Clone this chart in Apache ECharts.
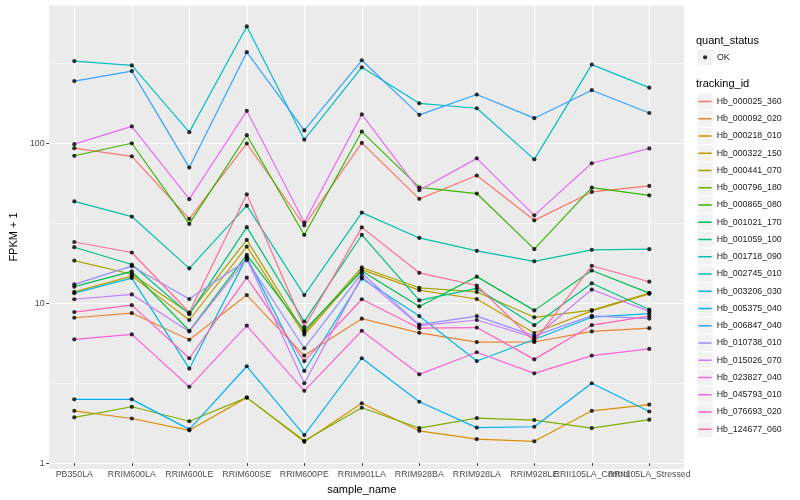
<!DOCTYPE html>
<html><head><meta charset="utf-8">
<script src="https://cdn.jsdelivr.net/npm/echarts@6/dist/echarts.min.js"></script>
<style>html,body{margin:0;padding:0;background:#fff}#c{width:800px;height:500px}</style>
</head><body><div id="c"></div>
<script>
// ---- data ----
const categories = ["PB350LA","RRIM600LA","RRIM600LE","RRIM600SE","RRIM600PE","RRIM901LA","RRIM928BA","RRIM928LA","RRIM928LE","RRII105LA_Control","RRII105LA_Stressed"];
const yTickValues = [1, 10, 100];
const trackingIds = ["Hb_000025_360","Hb_000092_020","Hb_000218_010","Hb_000322_150","Hb_000441_070","Hb_000796_180","Hb_000865_080","Hb_001021_170","Hb_001059_100","Hb_001718_090","Hb_002745_010","Hb_003206_030","Hb_005375_040","Hb_006847_040","Hb_010738_010","Hb_015026_070","Hb_023827_040","Hb_045793_010","Hb_076693_020","Hb_124677_060"];
const hb_000025_360 = [91, 80.8, 32.5, 97.5, 29.5, 98.3, 43.5, 61.1, 31.8, 48.1, 52.5];
const hb_000092_020 = [7.69, 8.23, 5.58, 10.7, 4.43, 7.59, 6.17, 5.39, 5.4, 6.3, 6.6];
const hb_000218_010 = [1.98, 1.77, 1.49, 2.40, 1.26, 2.21, 1.48, 1.31, 1.27, 1.98, 2.17];
const hb_000322_150 = [11.2, 14.1, 7.44, 21.7, 6.0, 15.5, 11.5, 10.1, 6.15, 8.5, 10.9];
const hb_000441_070 = [17.7, 14.5, 8.2, 23.9, 6.2, 16.0, 11.9, 11.2, 7.74, 8.6, 11.0];
const hb_000796_180 = [1.80, 2.10, 1.70, 2.40, 1.28, 2.07, 1.54, 1.78, 1.73, 1.54, 1.74];
const hb_000865_080 = [81.5, 97.8, 30.2, 110, 25.7, 116, 51.4, 47, 20.9, 51.2, 45.8];
const hb_001021_170 = [12.1, 15.1, 6.36, 19.2, 6.4, 15.2, 9.07, 14.0, 8.56, 15.3, 11.0];
const hb_001059_100 = [21.5, 16.7, 8.1, 28.8, 7.27, 25.7, 9.9, 11.8, 6.9, 12.7, 8.67];
const hb_001718_090 = [41.9, 33.6, 15.8, 39.4, 10.7, 35.6, 24.6, 20.4, 17.5, 20.7, 20.9];
const hb_002745_010 = [324, 304, 115, 537, 103, 296, 175, 163, 77.4, 308, 220];
const hb_003206_030 = [11.0, 13.7, 3.66, 18.6, 3.54, 13.6, 7.88, 4.09, 5.6, 7.75, 8.17];
const hb_005375_040 = [2.34, 2.34, 1.51, 3.79, 1.39, 4.26, 2.26, 1.55, 1.57, 2.96, 1.96];
const hb_006847_040 = [242, 280, 68.6, 369, 118, 328, 148, 199, 141, 212, 152];
const hb_010738_010 = [12.5, 16.3, 10.1, 17.8, 4.93, 14.7, 6.95, 7.88, 5.9, 7.9, 7.6];
const hb_015026_070 = [10.07, 10.8, 6.3, 18.2, 2.96, 14.0, 6.85, 7.44, 5.75, 11.6, 8.44];
const hb_023827_040 = [96.5, 125, 43.3, 157, 30.8, 149, 49.3, 78.5, 34.2, 73.1, 90.7];
const hb_045793_010 = [5.61, 6.03, 2.81, 6.86, 2.65, 6.36, 3.37, 4.65, 3.42, 4.43, 4.88];
const hb_076693_020 = [8.35, 9.24, 4.26, 13.8, 4.09, 10.07, 6.6, 6.66, 4.19, 6.9, 7.88];
const hb_124677_060 = [23.2, 19.9, 8.3, 46.5, 6.7, 28.7, 14.8, 12.3, 5.45, 16.4, 13.0];
const seriesValues = [hb_000025_360, hb_000092_020, hb_000218_010, hb_000322_150, hb_000441_070, hb_000796_180, hb_000865_080, hb_001021_170, hb_001059_100, hb_001718_090, hb_002745_010, hb_003206_030, hb_005375_040, hb_006847_040, hb_010738_010, hb_015026_070, hb_023827_040, hb_045793_010, hb_076693_020, hb_124677_060];
const statusName = "OK";

// ---- style ----
const colors = ["#F8766D","#EA8331","#D89000","#C09B00","#A3A500","#7CAE00","#39B600","#00BB4E","#00BF7D","#00C1A3","#00BFC4","#00BAE0","#00B0F6","#35A2FF","#9590FF","#C77CFF","#E76BF3","#FA62DB","#FF62BC","#FF6C91"];
const FONT = '"Liberation Sans", Arial, Helvetica, sans-serif';
const yMin = 0.924, yMax = 734;
const P = {left: 40, top: 5, width: 644, height: 464};
const dataLeft = 74.3, dataWidth = 575;

const chart = echarts.init(document.getElementById('c'));

const lineSeries = trackingIds.map((name, i) => ({
  name, type: 'line', xAxisIndex: 1, yAxisIndex: 2,
  data: seriesValues[i], showSymbol: false, symbol: 'none',
  lineStyle: {width: 1.2, color: colors[i]}, itemStyle: {color: colors[i]},
  z: 2, silent: true
}));
const pointData = [];
seriesValues.forEach(arr => arr.forEach((v, j) => pointData.push([categories[j], v])));

const keyRects = [];
keyRects.push({type: 'rect', shape: {x: 697.3, y: 49.3, width: 15.4, height: 16}, style: {fill: '#F2F2F2'}, z: 1});
trackingIds.forEach((n, i) => keyRects.push({type: 'rect', shape: {x: 697.3, y: 93.5 + i * 17.25, width: 15.4, height: 16}, style: {fill: '#F2F2F2'}, z: 1}));

chart.setOption({
  animation: false,
  textStyle: {fontFamily: FONT},
  grid: [
    {left: P.left, top: P.top, width: P.width, height: P.height, show: true, backgroundColor: '#EBEBEB', borderWidth: 0},
    {left: dataLeft, top: P.top, width: dataWidth, height: P.height, show: false}
  ],
  xAxis: [
    {gridIndex: 0, type: 'value', min: 0, max: 1, show: false},
    {gridIndex: 1, type: 'category', data: categories, boundaryGap: false,
     axisLine: {show: false},
     axisTick: {show: true, length: 2.7, lineStyle: {color: '#333333', width: 1}},
     axisLabel: {interval: 0, hideOverlap: false, fontSize: 8.8, color: '#4D4D4D', margin: 7, fontFamily: FONT},
     splitLine: {show: true, lineStyle: {color: '#FFFFFF', width: 1.2}},
     name: 'sample_name', nameLocation: 'middle', nameGap: 13.5,
     nameTextStyle: {fontSize: 11, color: '#000', fontFamily: FONT, verticalAlign: 'top'}}
  ],
  yAxis: [
    {gridIndex: 0, type: 'log', logBase: 10, min: yMin, max: yMax,
     axisLine: {show: false},
     axisTick: {show: true, length: 2.7, lineStyle: {color: '#333333', width: 1}, customValues: yTickValues},
     axisLabel: {customValues: yTickValues, fontSize: 8.8, color: '#4D4D4D', margin: 4.5, fontFamily: FONT,
                 formatter: v => String(Math.round(v))},
     splitLine: {show: true, lineStyle: {color: '#FFFFFF', width: 1.2}},
     name: 'FPKM + 1', nameLocation: 'middle', nameGap: 22.5,
     nameTextStyle: {fontSize: 11, color: '#000', fontFamily: FONT}},
    {gridIndex: 0, type: 'log', logBase: Math.sqrt(10), min: yMin, max: yMax,
     axisLine: {show: false}, axisTick: {show: false}, axisLabel: {show: false},
     splitLine: {show: true, lineStyle: {color: '#FFFFFF', width: 0.6}}},
    {gridIndex: 1, type: 'log', min: yMin, max: yMax, show: false}
  ],
  legend: [
    {data: trackingIds.map((n, i) => ({name: n, itemStyle: {color: colors[i]}})),
     orient: 'vertical', left: 698.3, top: 93.5, padding: 0, itemGap: 1.25,
     itemWidth: 13.4, itemHeight: 1.5, icon: 'rect', selectedMode: false,
     textStyle: {fontSize: 8.8, color: '#1A1A1A', lineHeight: 16, fontFamily: FONT}},
    {data: [statusName], orient: 'vertical', left: 703, top: 49.3, padding: 0,
     itemWidth: 4.2, itemHeight: 4.2, icon: 'circle', selectedMode: false,
     textStyle: {fontSize: 8.8, color: '#1A1A1A', lineHeight: 16, padding: [0, 0, 0, 4.7], fontFamily: FONT}}
  ],
  graphic: keyRects.concat([
    {type: 'text', x: 696, y: 40.5, style: {text: 'quant_status', fontSize: 11, fill: '#000', fontFamily: FONT, verticalAlign: 'middle'}, z: 5},
    {type: 'text', x: 696, y: 84, style: {text: 'tracking_id', fontSize: 11, fill: '#000', fontFamily: FONT, verticalAlign: 'middle'}, z: 5}
  ]),
  series: lineSeries.concat([{
    name: statusName, type: 'scatter', xAxisIndex: 1, yAxisIndex: 2,
    data: pointData, symbol: 'circle', symbolSize: 4.2,
    itemStyle: {color: '#000000'}, z: 3, silent: true
  }])
});
</script></body></html>
